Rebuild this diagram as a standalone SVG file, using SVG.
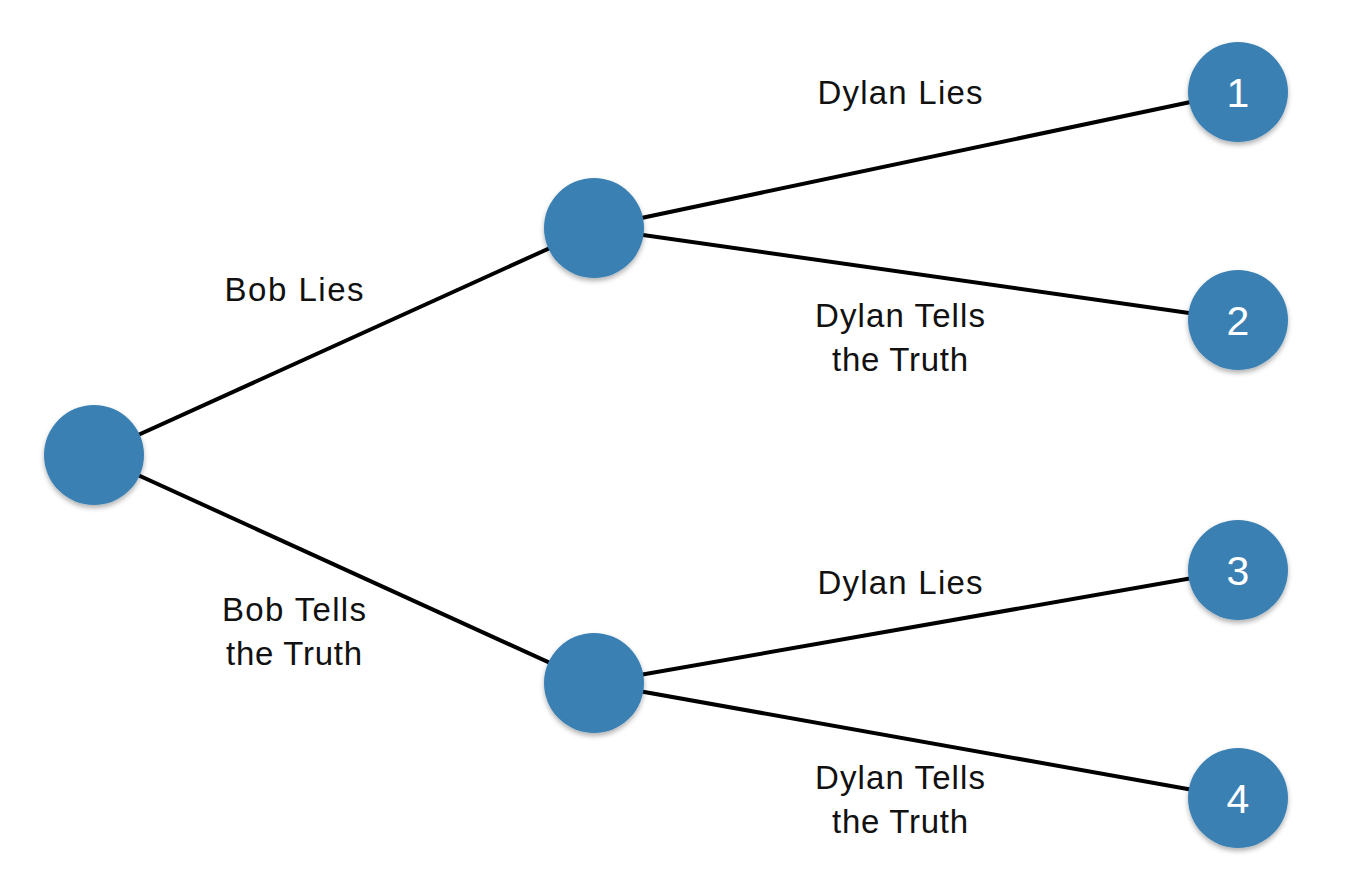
<svg xmlns="http://www.w3.org/2000/svg" width="1346" height="894" viewBox="0 0 1346 894">
<defs>
<filter id="sh" x="-20%" y="-20%" width="140%" height="150%">
<feDropShadow dx="0" dy="3" stdDeviation="2.5" flood-color="#000" flood-opacity="0.3"/>
</filter>
</defs>
<style>
.n{fill:#3b80b3;filter:url(#sh)}
.c{stroke:#000;stroke-width:4;fill:none}
.lbl{font-family:"Liberation Sans",Arial,sans-serif;font-size:33px;fill:#111;text-anchor:middle}
.num{font-family:"Liberation Sans",Arial,sans-serif;font-size:41px;fill:#fff;text-anchor:middle}
</style>
<rect width="1346" height="894" fill="#fff"/>
<g id="connectors">
<line class="c" x1="94" y1="455" x2="594" y2="228"/>
<line class="c" x1="94" y1="455" x2="594" y2="683"/>
<line class="c" x1="594" y1="228" x2="1238" y2="92"/>
<line class="c" x1="594" y1="228" x2="1238" y2="320"/>
<line class="c" x1="594" y1="683" x2="1238" y2="570"/>
<line class="c" x1="594" y1="683" x2="1238" y2="798"/>
</g>
<g id="labels">
<text class="lbl" x="294" y="301" textLength="139" lengthAdjust="spacing">Bob Lies</text>
<text class="lbl" x="294" y="621" textLength="144" lengthAdjust="spacing">Bob Tells</text>
<text class="lbl" x="294" y="665" textLength="136" lengthAdjust="spacing">the Truth</text>
<text class="lbl" x="900" y="104" textLength="165" lengthAdjust="spacing">Dylan Lies</text>
<text class="lbl" x="900" y="327" textLength="170" lengthAdjust="spacing">Dylan Tells</text>
<text class="lbl" x="900" y="371" textLength="136" lengthAdjust="spacing">the Truth</text>
<text class="lbl" x="900" y="594" textLength="165" lengthAdjust="spacing">Dylan Lies</text>
<text class="lbl" x="900" y="789" textLength="170" lengthAdjust="spacing">Dylan Tells</text>
<text class="lbl" x="900" y="833" textLength="136" lengthAdjust="spacing">the Truth</text>
</g>
<g id="root"><circle class="n" cx="94" cy="455" r="50"/></g>
<g id="mid-top"><circle class="n" cx="594" cy="228" r="50"/></g>
<g id="mid-bottom"><circle class="n" cx="594" cy="683" r="50"/></g>
<g id="leaf1"><circle class="n" cx="1238" cy="92" r="50"/><text class="num" x="1238" y="107">1</text></g>
<g id="leaf2"><circle class="n" cx="1238" cy="320" r="50"/><text class="num" x="1238" y="335">2</text></g>
<g id="leaf3"><circle class="n" cx="1238" cy="570" r="50"/><text class="num" x="1238" y="585">3</text></g>
<g id="leaf4"><circle class="n" cx="1238" cy="798" r="50"/><text class="num" x="1238" y="813">4</text></g>
</svg>
